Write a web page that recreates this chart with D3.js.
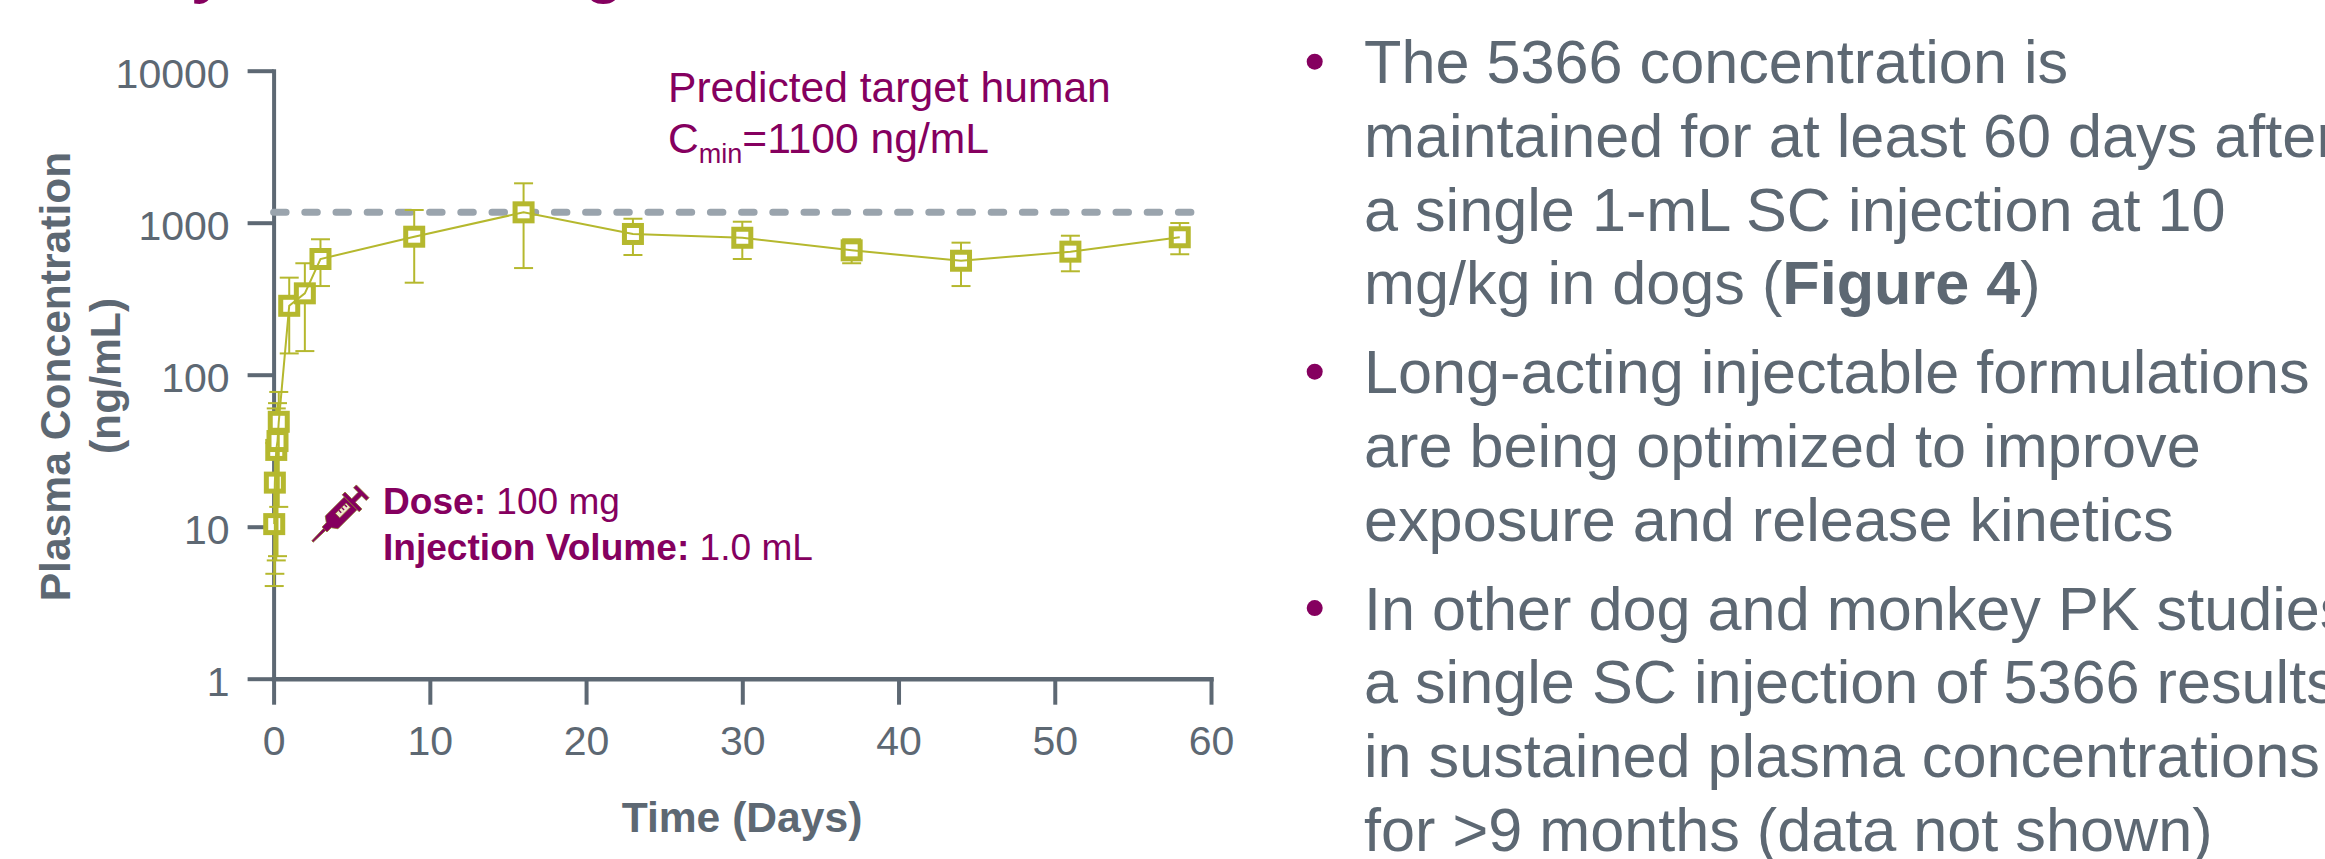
<!DOCTYPE html>
<html>
<head>
<meta charset="utf-8">
<script src="https://cdn.jsdelivr.net/npm/d3@7"></script>
<style>
  html, body { margin: 0; padding: 0; background: #fff; overflow: hidden; }
  text { font-family: "Liberation Sans", Arial, sans-serif; }
  .domain { stroke-linecap: square; }
</style>
</head>
<body>
<svg id="viz"></svg>
<script>
var width = 2325;
var height = 859;

var gray = "#5d6873";
var purple = "#85005f";
var olive = "#b5b82e";

var days = [0.04, 0.08, 0.17, 0.25, 0.33, 1, 2, 3, 9, 16, 23, 30, 37, 44, 51, 58];
var conc = [10.4, 19.5, 32, 36.6, 49, 284, 343, 577, 809, 1170, 843, 796, 658, 562, 645, 802];
var concHigh = [20.6, 35.5, 60, 65, 77, 435, 541, 778, 1212, 1816, 1062, 1015, 778, 739, 821, 995];
var concLow = [4.07, 4.9, 6.0, 6.4, 13.5, 138, 143, 383, 403, 503, 613, 577, 541, 383, 479, 620];
var targetConc = 1170;
var targetEndDay = 58.8;

var xTicks = [0, 10, 20, 30, 40, 50, 60];
var yTicks = [1, 10, 100, 1000, 10000];

var titleGlyphs = ["y", "g"];

var bullets = [
    [[["The 5366 concentration is"]],
     [["maintained for at least 60 days after"]],
     [["a single 1-mL SC injection at 10"]],
     [["mg/kg in dogs ("], ["Figure 4", true], [")"]]],
    [[["Long-acting injectable formulations"]],
     [["are being optimized to improve"]],
     [["exposure and release kinetics"]]],
    [[["In other dog and monkey PK studies,"]],
     [["a single SC injection of 5366 results"]],
     [["in sustained plasma concentrations"]],
     [["for >9 months (data not shown)"]]]
];

var svg = d3.select("#viz").attr("width", width).attr("height", height).style("display", "block");

var x = d3.scaleLinear().domain([0, 60]).range([273.6, 1211]);
var y = d3.scaleLog().domain([1, 10000]).range([678.7, 70.7]);

// title is cut off by the top of the picture, only descenders show
svg.selectAll(".title-glyph")
    .data(titleGlyphs)
    .enter()
    .append("text")
    .attr("class", "title-glyph")
    .attr("x", function(d, i) { return i == 0 ? 191 : 585; })
    .attr("y", -9)
    .attr("font-size", 62)
    .attr("font-weight", "bold")
    .attr("fill", purple)
    .text(function(d) { return d; });

// axes
var yAxis = svg.append("g")
    .attr("transform", "translate(" + x(0) + ",0)")
    .call(d3.axisLeft(y).tickValues(yTicks).tickFormat(d3.format("d")).tickSize(26).tickSizeOuter(0).tickPadding(18));

var xAxis = svg.append("g")
    .attr("transform", "translate(0," + y(1) + ")")
    .call(d3.axisBottom(x).tickValues(xTicks).tickFormat(d3.format("d")).tickSize(26).tickSizeOuter(0).tickPadding(21));

[yAxis, xAxis].forEach(function(axis) {
    axis.selectAll(".domain").attr("stroke", gray).attr("stroke-width", 4);
    axis.selectAll(".tick line").attr("stroke", gray).attr("stroke-width", 4);
    axis.selectAll(".tick text")
        .attr("fill", gray)
        .attr("font-size", 41)
        .style("font-family", '"Liberation Sans", Arial, sans-serif');
});
yAxis.selectAll(".tick text").attr("dy", "0.4em");
xAxis.selectAll(".domain").attr("stroke-width", 4.5);

// target line
svg.append("line")
    .attr("x1", x(0))
    .attr("x2", x(targetEndDay))
    .attr("y1", y(targetConc))
    .attr("y2", y(targetConc))
    .attr("stroke", "#9aa4ad")
    .attr("stroke-width", 7)
    .attr("stroke-linecap", "round")
    .attr("stroke-dasharray", "12.5 18.7");

// error bars and markers, later points sit on top of earlier ones
var capHalf = 9.5;
var markerSize = 17;
var points = svg.append("g").selectAll("g")
    .data(days)
    .enter()
    .append("g");

points.append("line")
    .attr("x1", function(d) { return x(d); })
    .attr("x2", function(d) { return x(d); })
    .attr("y1", function(d, i) { return y(concHigh[i]); })
    .attr("y2", function(d, i) { return y(concLow[i]); })
    .attr("stroke", olive)
    .attr("stroke-width", 2);

[concHigh, concLow].forEach(function(values) {
    points.append("line")
        .attr("x1", function(d) { return x(d) - capHalf; })
        .attr("x2", function(d) { return x(d) + capHalf; })
        .attr("y1", function(d, i) { return y(values[i]); })
        .attr("y2", function(d, i) { return y(values[i]); })
        .attr("stroke", olive)
        .attr("stroke-width", 2);
});

points.append("rect")
    .attr("x", function(d) { return x(d) - markerSize / 2; })
    .attr("y", function(d, i) { return y(conc[i]) - markerSize / 2; })
    .attr("width", markerSize)
    .attr("height", markerSize)
    .attr("fill", "#fff")
    .attr("stroke", olive)
    .attr("stroke-width", 5);

var line = d3.line()
    .x(function(d) { return x(d); })
    .y(function(d, i) { return y(conc[i]); });

svg.append("path")
    .attr("d", line(days))
    .attr("fill", "none")
    .attr("stroke", olive)
    .attr("stroke-width", 2);

// axis titles
svg.append("text")
    .attr("x", 742)
    .attr("y", 831.5)
    .attr("text-anchor", "middle")
    .attr("font-size", 42.6)
    .attr("font-weight", "bold")
    .attr("fill", gray)
    .text("Time (Days)");

svg.append("text")
    .attr("transform", "translate(69.5,376.5) rotate(-90)")
    .attr("text-anchor", "middle")
    .attr("font-size", 42.6)
    .attr("font-weight", "bold")
    .attr("fill", gray)
    .text("Plasma Concentration");

svg.append("text")
    .attr("transform", "translate(120,376) rotate(-90)")
    .attr("text-anchor", "middle")
    .attr("font-size", 42.6)
    .attr("font-weight", "bold")
    .attr("fill", gray)
    .text("(ng/mL)");

// target annotation
svg.append("text")
    .attr("x", 668)
    .attr("y", 101.5)
    .attr("font-size", 42.6)
    .attr("fill", purple)
    .text("Predicted target human");

var cmin = svg.append("text")
    .attr("x", 668)
    .attr("y", 153)
    .attr("font-size", 42.6)
    .attr("fill", purple);
cmin.append("tspan").text("C");
cmin.append("tspan").attr("font-size", 27).attr("dy", 10).text("min");
cmin.append("tspan").attr("dy", -10).text("=1100 ng/mL");

// dose annotation
var dose = svg.append("text")
    .attr("x", 383)
    .attr("y", 514)
    .attr("font-size", 37.1)
    .attr("fill", purple);
dose.append("tspan").attr("font-weight", "bold").text("Dose:");
dose.append("tspan").text(" 100 mg");

var volume = svg.append("text")
    .attr("x", 383)
    .attr("y", 560)
    .attr("font-size", 37.1)
    .attr("fill", purple);
volume.append("tspan").attr("font-weight", "bold").text("Injection Volume:");
volume.append("tspan").text(" 1.0 mL");

// syringe icon, drawn lying flat then turned
var syringe = svg.append("g")
    .attr("transform", "translate(312.5,541.5) rotate(-45)")
    .attr("fill", purple)
    .attr("stroke", "#8a7a20")
    .attr("stroke-width", 0.7);
syringe.append("path").attr("d", "M0,-1L20,-1.6L20,1.6L0,1Z");
syringe.append("path").attr("d", "M17,-3.5L23,-3.5L27,-9L54,-9L54,9L27,9L23,3.5L17,3.5Z");
syringe.append("rect").attr("x", 36).attr("y", -3.5).attr("width", 15).attr("height", 6).attr("fill", "#efe6cc");
syringe.selectAll(".mark")
    .data([40, 44, 48])
    .enter()
    .append("rect")
    .attr("class", "mark")
    .attr("x", function(d) { return d; })
    .attr("y", -3.5)
    .attr("width", 1.4)
    .attr("height", 3.5)
    .attr("stroke", "none");
syringe.append("path").attr("d", "M54,-12L58,-12L58,-2.5L67,-2.5L67,-9L71,-9L71,9L67,9L67,2.5L58,2.5L58,12L54,12Z");

// bullet list on the right
var textX = 1364;
var bulletX = 1314.7;
var lineStep = 73.6;
var paraGap = 15.6;
var baseline = 83.3;

bullets.forEach(function(lines) {
    svg.append("circle")
        .attr("cx", bulletX)
        .attr("cy", baseline - 21.6)
        .attr("r", 8)
        .attr("fill", purple);

    lines.forEach(function(parts) {
        var row = svg.append("text")
            .attr("x", textX)
            .attr("y", baseline)
            .attr("font-size", 61.2)
            .attr("fill", gray);
        parts.forEach(function(p) {
            row.append("tspan")
                .attr("font-weight", p[1] ? "bold" : "normal")
                .text(p[0]);
        });
        baseline += lineStep;
    });
    baseline += paraGap;
});
</script>
</body>
</html>
